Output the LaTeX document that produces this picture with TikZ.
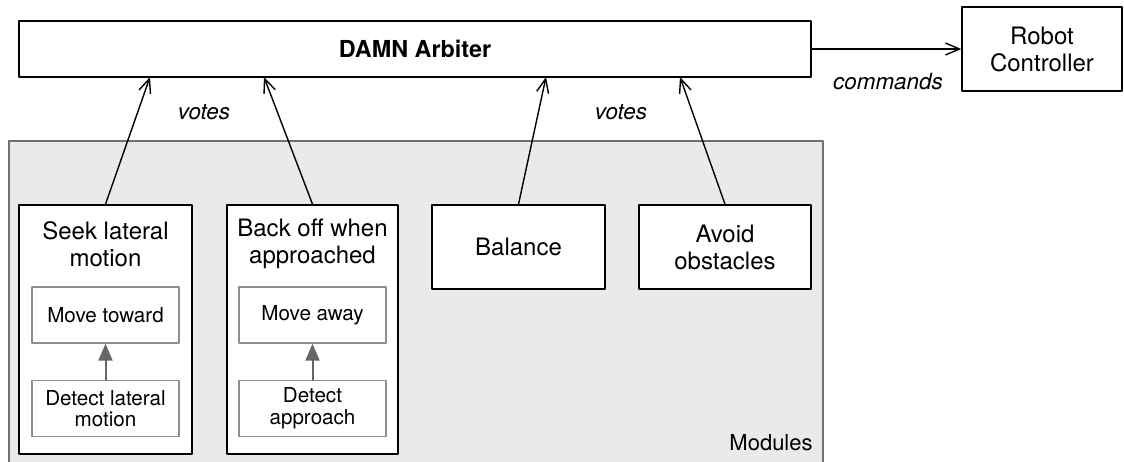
\documentclass[tikz,border=0pt]{standalone}
\usepackage{fontspec}
\setmainfont{TeX Gyre Heros}
\usetikzlibrary{arrows.meta}
\definecolor{modgray}{HTML}{EAEAEA}
\definecolor{modline}{HTML}{707070}
\definecolor{subline}{HTML}{8E8E8E}
\definecolor{subarrow}{HTML}{666666}

\begin{document}
\begin{tikzpicture}[line cap=round,line join=round,>={Straight Barb[length=7pt,width=6pt]},x=0.5pt,y=-0.5pt,
  box/.style={draw=black,line width=0.8pt,fill=white,inner sep=0pt,align=center,font=\fontsize{12}{13.5}\selectfont},
  title/.style={inner sep=0pt,align=center,font=\fontsize{12}{13.5}\selectfont},
  subbox/.style={draw=subline,line width=0.7pt,fill=white,inner sep=0pt,align=center,minimum width=73.5pt,minimum height=28pt,font=\fontsize{10.3}{10.8}\selectfont},
  vote/.style={->,line width=0.7pt},
  inner/.style={-{Triangle[length=8.5pt,width=7pt]},subarrow,line width=1pt},
  lbl/.style={inner sep=0pt,font=\fontsize{11.2}{13}\selectfont\itshape}]
\clip (0,0) rectangle (1124,461);
\fill[white] (0,0) rectangle (1124,461);
\draw[modline,fill=modgray,line width=0.9pt] (9,141) rectangle (823,480);
\node[inner sep=0pt,anchor=base east,font=\fontsize{11}{13}\selectfont] (modules) at (813,450) {Modules};

\node[box,minimum width=396pt,minimum height=28pt,font=\fontsize{11.7}{13.5}\selectfont\bfseries] (arbiter) at (415,49) {DAMN Arbiter};
\node[box,minimum width=80pt,minimum height=42pt] (robot) at (1042,49) {Robot\\Controller};

\node[box,minimum width=86.5pt,minimum height=124.5pt] (seek) at (105.5,329.5) {};
\node[title] (seektitle) at (105.5,244) {Seek lateral\\motion};
\node[box,minimum width=85.5pt,minimum height=124.5pt] (back) at (312.5,329.5) {};
\node[title] (backtitle) at (312.5,244) {Back off when\\approached};
\node[box,minimum width=86.5pt,minimum height=42pt] (balance) at (518.5,247) {Balance};
\node[box,minimum width=86pt,minimum height=42pt] (avoid) at (725,247) {Avoid\\obstacles};

\node[subbox] (toward) at (105.5,315) {Move toward};
\node[subbox] (detectlat) at (105.5,408.5) {Detect lateral\\motion};
\node[subbox] (away) at (312.5,315) {Move away};
\node[subbox] (detectapp) at (312.5,408.5) {Detect\\approach};

\coordinate (v1) at (150,77);
\coordinate (v2) at (264,77);
\coordinate (v3) at (546,77);
\coordinate (v4) at (680,77);

\draw[vote] (seek.north) -- (v1);
\draw[vote] (back.north) -- (v2);
\draw[vote] (balance.north) -- (v3);
\draw[vote] (avoid.north) -- (v4);
\draw[vote] (arbiter.east) -- (robot.west);
\draw[inner] (detectlat.north) -- (toward.south);
\draw[inner] (detectapp.north) -- (away.south);

\node[lbl] (votesa) at (204,112) {votes};
\node[lbl] (votesb) at (621,112) {votes};
\node[lbl] (commands) at (888,81) {commands};
\end{tikzpicture}
\end{document}
